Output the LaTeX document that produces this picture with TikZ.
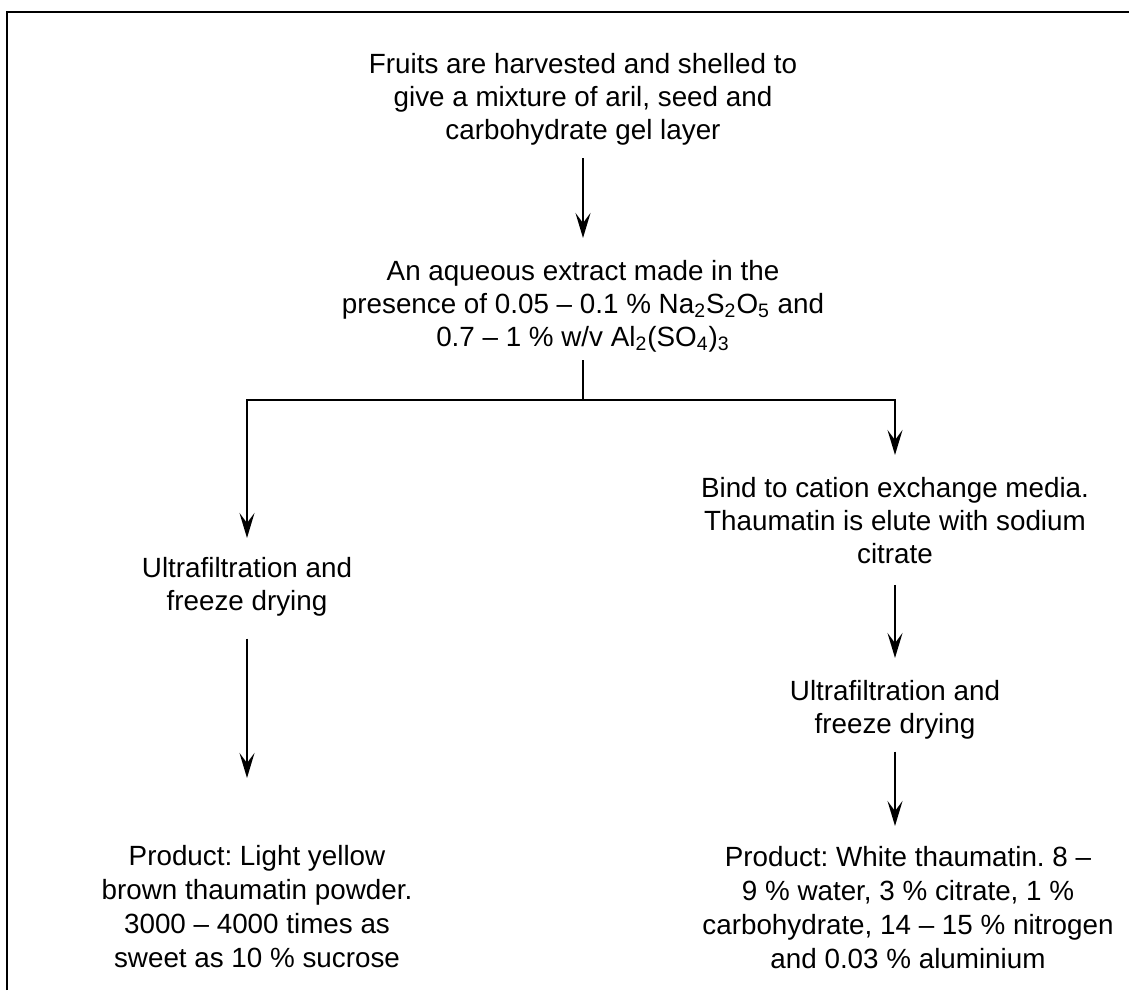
\documentclass[tikz,border=0pt]{standalone}
\usepackage{fontspec}
\setmainfont{Liberation Sans}
\usetikzlibrary{arrows.meta, positioning}
\frenchspacing

\begin{document}
\begin{tikzpicture}[x=0.5pt, y=-0.5pt,
            stepbox/.style={align=center, inner sep=0pt, anchor=north, font=\fontsize{13.9}{16.4}\selectfont},
            productbox/.style={stepbox, font=\fontsize{13.9}{17}\selectfont},
            flow/.style={-{Stealth[length=12.5pt, width=7.5pt, inset=5pt]}, line width=1pt},
            link/.style={line width=1pt}
        ]
            \useasboundingbox (0,0) rectangle (1129,990);
            \draw[line width=1.2pt] (7,990) -- (7,12) -- (1129,12);

            \node[stepbox] (fruits) at (583,53) {Fruits are harvested and shelled to\\give a mixture of aril, seed and\\carbohydrate gel layer};
            \node[stepbox] (extract) at (583,260) {An aqueous extract made in the\\presence of 0.05 -- 0.1 \% Na\textsubscript{2}S\textsubscript{2}O\textsubscript{5} and\\0.7 -- 1 \% w/v Al\textsubscript{2}(SO\textsubscript{4})\textsubscript{3}};
            \node[stepbox] (ultraL) at (247,557) {Ultrafiltration and\\freeze drying};
            \node[productbox] (prodL) at (257,845) {Product: Light yellow\\brown thaumatin powder.\\3000 -- 4000 times as\\sweet as 10 \% sucrose};
            \node[stepbox] (bind) at (895,477) {Bind to cation exchange media.\\Thaumatin is elute with sodium\\citrate};
            \node[stepbox] (ultraR) at (895,680) {Ultrafiltration and\\freeze drying};
            \node[productbox] (prodR) at (908,846) {Product: White thaumatin. 8 --\\9 \% water, 3 \% citrate, 1 \%\\carbohydrate, 14 -- 15 \% nitrogen\\and 0.03 \% aluminium};

            \coordinate (split) at (583,400);

            \draw[flow, shorten <=6.5pt, shorten >=11pt] (fruits) -- (extract);
            \draw[link, shorten <=4pt] (extract) -- (split);
            \draw[flow, shorten >=9.5pt] (split) -| (ultraL);
            \draw[flow, shorten >=11pt] (split) -| (bind);
            \draw[flow, shorten <=11pt, shorten >=33.5pt] (ultraL) -- (ultraL |- prodL.north);
            \draw[flow, shorten <=10.5pt, shorten >=11pt] (bind) -- (ultraR);
            \draw[flow, shorten <=6pt, shorten >=10pt] (ultraR) -- (ultraR |- prodR.north);
        \end{tikzpicture}
\end{document}
